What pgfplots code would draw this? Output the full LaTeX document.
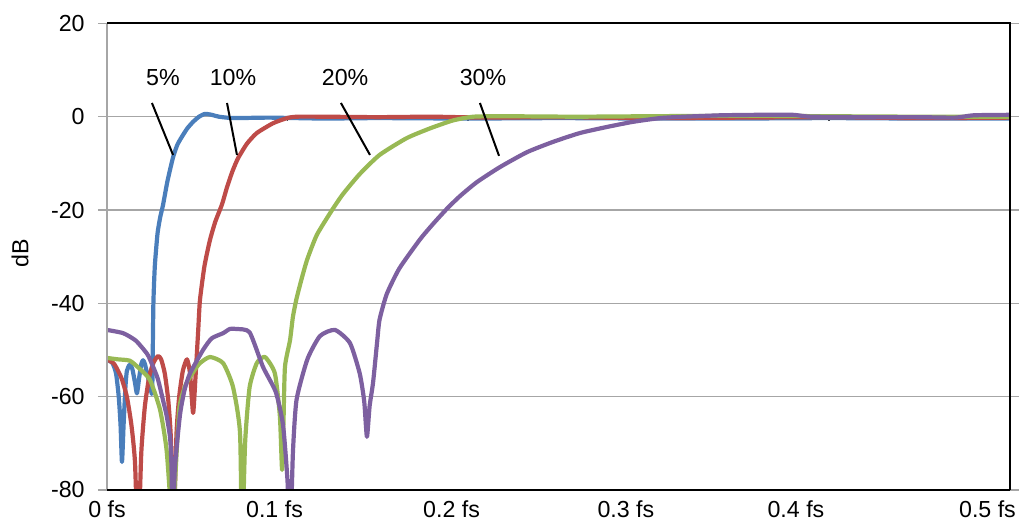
\documentclass[border=0pt]{standalone}
\usepackage{fontspec}
\setmainfont{Liberation Sans}
\usepackage{pgfplots}
\pgfplotsset{compat=1.18}
\definecolor{cblue}{HTML}{4A7EBB}
\definecolor{cred}{HTML}{BE4B48}
\definecolor{cgreen}{HTML}{98B954}
\definecolor{cpurple}{HTML}{7D60A0}
\definecolor{cgrid}{HTML}{A6A6A6}
\begin{document}
\begin{tikzpicture}[font=\fontsize{11.6}{13.9}\selectfont]
\path[use as bounding box] (-53.5pt,-16pt) rectangle (458pt,245pt);
\begin{axis}[name=ax, at={(0,0)}, anchor=south west,
  scale only axis, width=451.25pt, height=233.3pt,
  xmin=0, xmax=0.5, ymin=-80, ymax=20,
  axis line style={draw=none},
  ytick={-80,-60,-40,-20,0,20},
  yticklabels={-80,-60,-40,-20,0,20},
  xtick={0,0.0928,0.1909,0.2875,0.3817,0.4878},
  xticklabels={0 fs,0.1 fs,0.2 fs,0.3 fs,0.4 fs,0.5 fs},
  xtick style={draw=none},
  ytick style={color=cgrid, line width=0.8pt},
  tick align=outside, major tick length=4.5pt,
  ymajorgrids, grid style={color=cgrid, line width=0.8pt},
  yticklabel style={anchor=east, inner sep=0pt, xshift=-6.5pt},
  xticklabel style={anchor=north, inner sep=0pt, yshift=-0.8pt},
  ylabel={dB},
  ylabel style={at={(rel axis cs:-0.0964,0.507)}, anchor=center, inner sep=0pt},
  every axis plot/.append style={line width=2.1pt, line join=round, no markers, smooth, tension=0.35},
]
\draw[gray!50!black, line width=0.6pt] (axis cs:0.1,0) -- ++(0pt,-2pt);
\draw[gray!50!black, line width=0.6pt] (axis cs:0.2,0) -- ++(0pt,-2pt);
\draw[gray!50!black, line width=0.6pt] (axis cs:0.3,0) -- ++(0pt,-2pt);
\draw[gray!50!black, line width=0.6pt] (axis cs:0.4,0) -- ++(0pt,-2pt);

% 5%
\addplot[cblue] coordinates {
(0,-52.1) (0.003,-52.8) (0.005,-55) (0.0065,-60) (0.0075,-66) (0.0083,-74)
(0.0092,-66) (0.0102,-58) (0.011,-54.5) (0.0125,-53.2) (0.014,-54) (0.0155,-57)
(0.0166,-59.3) (0.0178,-56) (0.019,-53) (0.020,-52.2) (0.021,-53) (0.0225,-55.5)
(0.024,-58) (0.025,-59.3) (0.0253,-52) (0.0257,-40) (0.0265,-32) (0.028,-25)
(0.0295,-21.5) (0.031,-19) (0.0335,-13.8) (0.0366,-8.7) (0.039,-6) (0.0415,-4.3)
(0.0445,-2.5) (0.0477,-1.1) (0.051,0) (0.0543,0.6) (0.058,0.4) (0.062,0)
(0.07,-0.3) (0.09,-0.2) (0.12,-0.4) (0.15,-0.3) (0.2,-0.4) (0.25,-0.3)
(0.3,-0.4) (0.35,-0.4) (0.4,-0.3) (0.45,-0.4) (0.5,-0.4)
};
% 10%
\addplot[cred] coordinates {
(0,-52) (0.004,-53) (0.008,-56) (0.011,-60) (0.0135,-66) (0.0155,-74) (0.0172,-92)
(0.019,-72) (0.021,-62) (0.0235,-55.5) (0.026,-52.5) (0.0283,-51.3) (0.030,-52)
(0.032,-55) (0.034,-61) (0.0355,-70) (0.0366,-92) (0.0385,-68) (0.040,-60)
(0.042,-54.5) (0.0443,-52) (0.046,-55) (0.0477,-63.5) (0.049,-56) (0.0505,-46)
(0.0515,-39.3) (0.054,-32) (0.057,-26.5) (0.060,-22.5) (0.0637,-18.8) (0.0665,-15.1)
(0.0695,-11.7) (0.0726,-8.9) (0.0775,-5.8) (0.083,-3.5) (0.092,-1.4) (0.0997,-0.3)
(0.105,0) (0.12,0) (0.15,-0.1) (0.18,0) (0.21,-0.2) (0.25,-0.1) (0.3,-0.3)
(0.35,-0.2) (0.4,-0.1) (0.45,-0.3) (0.5,-0.2)
};
% 20%
\addplot[cgreen] coordinates {
(0,-51.7) (0.006,-52) (0.0127,-52.3) (0.018,-54) (0.0238,-56.4) (0.0294,-62.8)
(0.033,-71.4) (0.0355,-85) (0.0362,-92) (0.0375,-80) (0.040,-62.8) (0.043,-58)
(0.046,-55.8) (0.051,-53) (0.057,-51.5) (0.0643,-52.8) (0.0698,-57.9) (0.0737,-67.8)
(0.0748,-92) (0.0765,-70) (0.079,-58) (0.083,-52.8) (0.0875,-51.5) (0.093,-55)
(0.0958,-64.3) (0.097,-75.7) (0.0978,-65) (0.0986,-53.6) (0.1014,-47.9) (0.103,-42.9)
(0.105,-39) (0.108,-34.5) (0.111,-30.5) (0.1163,-25.3) (0.1247,-20) (0.1307,-16.6)
(0.140,-12.3) (0.151,-8.2) (0.166,-4.6) (0.179,-2.5) (0.1917,-0.8) (0.203,0)
(0.22,0.1) (0.26,0) (0.3,0.1) (0.35,0.2) (0.4,0.1) (0.45,0) (0.5,0)
};
% 30%
\addplot[cpurple] coordinates {
(0,-45.7) (0.009,-46.4) (0.016,-48) (0.022,-50.7) (0.0238,-52) (0.028,-56)
(0.031,-60.7) (0.033,-64) (0.035,-69) (0.0358,-76) (0.0364,-92) (0.0375,-76)
(0.0404,-64) (0.043,-58.5) (0.046,-55) (0.0532,-50) (0.058,-47.5) (0.0643,-46.4)
(0.068,-45.5) (0.072,-45.5) (0.079,-46.2) (0.0864,-53.6) (0.0935,-59) (0.0975,-66)
(0.100,-78) (0.1014,-92) (0.103,-72) (0.105,-60.7) (0.111,-52) (0.118,-47)
(0.1263,-45.7) (0.1346,-48.5) (0.140,-55) (0.1425,-61) (0.144,-68.6) (0.1455,-62)
(0.1474,-57) (0.1496,-48.5) (0.151,-43.5) (0.155,-38) (0.162,-32.5) (0.1734,-26.3)
(0.1806,-23) (0.1884,-19.7) (0.1956,-17) (0.205,-14) (0.2177,-10.8) (0.2327,-7.6)
(0.2471,-5.4) (0.262,-3.5) (0.277,-2.2) (0.2914,-1.1) (0.3064,-0.3) (0.32,0)
(0.34,0.3) (0.36,0.4) (0.38,0.4) (0.39,0) (0.42,-0.1) (0.45,-0.1) (0.47,-0.2)
(0.48,0.3) (0.5,0.4)
};

\draw[black, line width=1pt] (axis cs:0.0249,2.94) -- (axis cs:0.0366,-8.2);
\draw[black, line width=1pt] (axis cs:0.0665,2.94) -- (axis cs:0.0720,-8.2);
\draw[black, line width=1pt] (axis cs:0.1296,2.94) -- (axis cs:0.1457,-8.2);
\draw[black, line width=1pt] (axis cs:0.2066,2.94) -- (axis cs:0.2172,-8.4);
\node at (axis cs:0.0310,8.3) {5\%};
\node at (axis cs:0.0698,8.3) {10\%};
\node at (axis cs:0.1319,8.3) {20\%};
\node at (axis cs:0.2083,8.3) {30\%};
\end{axis}
\draw[cgrid, line width=0.8pt] (ax.south west) -- (ax.north west);
\draw[black, line width=1pt] (ax.north west) -- (ax.north east) -- (ax.south east);
\draw[black, line width=1pt] (ax.south west) -- (ax.south east);
\end{tikzpicture}
\end{document}
